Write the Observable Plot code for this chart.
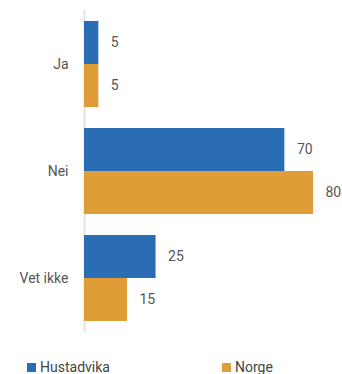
<!DOCTYPE html>
<html>
<head>
<meta charset="utf-8">
<script src="https://cdn.jsdelivr.net/npm/d3@7"></script>
<script src="https://cdn.jsdelivr.net/npm/@observablehq/plot@0.6"></script>
<style>
  html, body { margin: 0; padding: 0; background: #fff; }
  body { width: 342px; height: 374px; overflow: hidden; font-family: Roboto, "Liberation Sans", sans-serif; }
  #legend { display: flex; font-size: 14px; color: #444; margin-top: 14px; }
  .item { display: flex; align-items: center; }
  .sw { width: 9px; height: 9px; margin-right: 4px; }
</style>
</head>
<body>
<div id="chart"></div>
<div id="legend"></div>
<script>
const categories = ["Ja", "Nei", "Vet ikke"];
const series = ["Hustadvika", "Norge"];
const hustadvika = [5, 70, 25];
const norge = [5, 80, 15];
const colors = ["#2b6db4", "#de9d37"];

const data = [];
categories.forEach((c, i) => {
  data.push({category: c, series: series[0], value: hustadvika[i]});
  data.push({category: c, series: series[1], value: norge[i]});
});

const chart = Plot.plot({
  width: 342,
  height: 345,
  marginLeft: 84,
  marginRight: 29,
  marginTop: 10,
  marginBottom: 13,
  style: {fontFamily: "Roboto, 'Liberation Sans', sans-serif", fontSize: "14px", color: "#555", background: "#fff"},
  x: {domain: [0, 80], axis: null},
  y: {domain: series, axis: null, padding: 0},
  fy: {domain: categories, axis: "left", label: null, tickSize: 0, tickPadding: 16, paddingInner: 0.2, paddingOuter: 0.1},
  color: {domain: series, range: colors},
  marks: [
    Plot.ruleX([0], {stroke: "#e2e2e2", strokeWidth: 2, insetTop: -11, insetBottom: -11}),
    Plot.barX(data, {x: "value", y: "series", fy: "category", fill: "series"}),
    Plot.text(data, {x: "value", y: "series", fy: "category", text: d => String(d.value), textAnchor: "start", dx: 12, fill: "#555", fontSize: 14})
  ]
});
document.getElementById("chart").appendChild(chart);

const legend = document.getElementById("legend");
series.forEach((s, i) => {
  const item = document.createElement("div");
  item.className = "item";
  item.style.marginLeft = i === 0 ? "27px" : "0px";
  item.style.width = i === 0 ? "195px" : "auto";
  const sw = document.createElement("span");
  sw.className = "sw";
  sw.style.background = colors[i];
  const label = document.createElement("span");
  label.textContent = s;
  item.appendChild(sw);
  item.appendChild(label);
  legend.appendChild(item);
});
</script>
</body>
</html>
